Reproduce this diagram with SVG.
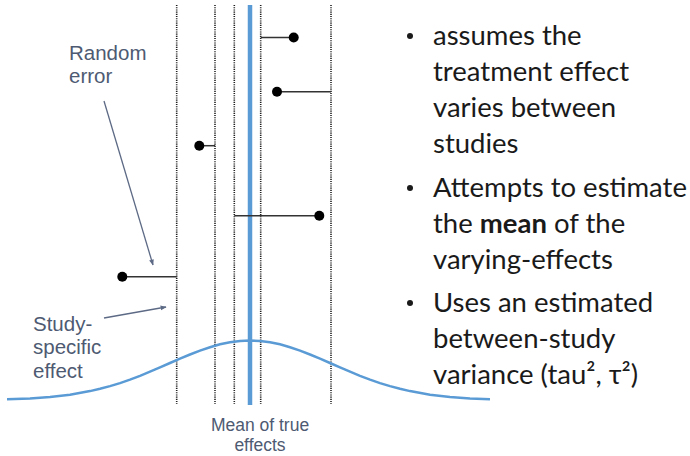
<svg xmlns="http://www.w3.org/2000/svg" width="690" height="456" viewBox="0 0 690 456">
<defs>
<style>
.dot-line{stroke:#1e1e1e;stroke-width:1.6;stroke-dasharray:1.1 1.1;fill:none}
.err{stroke:#333;stroke-width:1.5;fill:none}
.pt{fill:#000}
.lbl{font-family:"Liberation Sans",Arial,sans-serif;font-size:20.5px;fill:#4e5a72}
.mean{font-family:"Liberation Sans",Arial,sans-serif;font-size:17.5px;fill:#4e5a72;text-anchor:middle}
.ann{stroke:#5d6a85;stroke-width:1.3;fill:none;marker-end:url(#ah)}
.blue{stroke:#5b9bd5;fill:none}
.txt{font-family:Lato,"Open Sans",sans-serif;font-size:27.5px;fill:#1a1a1a}
.bul{fill:#1a1a1a}
</style>
<marker id="ah" viewBox="0 0 10 10" refX="9" refY="5" markerWidth="6" markerHeight="6" orient="auto" markerUnits="userSpaceOnUse">
<path d="M0,1 L10,5 L0,9 z" fill="#5d6a85"/>
</marker>
</defs>
<rect width="690" height="456" fill="#fff"/>

<g id="dotted-lines">
<line class="dot-line" x1="176.7" y1="5" x2="176.7" y2="404"/>
<line class="dot-line" x1="215" y1="5" x2="215" y2="404"/>
<line class="dot-line" x1="234.3" y1="5" x2="234.3" y2="404"/>
<line class="dot-line" x1="260.7" y1="5" x2="260.7" y2="404"/>
<line class="dot-line" x1="331" y1="5" x2="331" y2="404"/>
</g>

<g id="distribution">
<path class="blue" stroke-width="2.5" d="M7,399.3 L30,398.4 L50,397 L70,394.7 L90,391.1 L100,388.8 L110,386.1 L120,383.1 L130,379.6 L140,375.8 L150,371.7 L160,367.4 L170,363 L180,358.7 L190,354.5 L200,350.6 L210,347.2 L220,344.3 L230,342.2 L240,340.9 L250,340.5 L260,340.9 L270,342.2 L280,344.3 L290,347.2 L300,350.6 L310,354.5 L320,358.7 L330,363 L340,367.4 L350,371.7 L360,375.8 L370,379.6 L380,383.1 L390,386.1 L400,388.8 L410,391.1 L430,394.7 L450,397 L470,398.4 L490,399.3"/>
</g>

<g id="mean-line">
<line class="blue" stroke-width="4.5" x1="250" y1="5" x2="250" y2="405"/>
</g>

<g id="study-1">
<line class="err" x1="260.7" y1="37.5" x2="293.7" y2="37.5"/>
<circle class="pt" cx="293.7" cy="37.5" r="5"/>
</g>
<g id="study-2">
<line class="err" x1="277" y1="91.7" x2="331" y2="91.7"/>
<circle class="pt" cx="277" cy="91.7" r="5"/>
</g>
<g id="study-3">
<line class="err" x1="199.3" y1="145.7" x2="215" y2="145.7"/>
<circle class="pt" cx="199.3" cy="145.7" r="5"/>
</g>
<g id="study-4">
<line class="err" x1="234.3" y1="215.7" x2="319.3" y2="215.7"/>
<circle class="pt" cx="319.3" cy="215.7" r="5"/>
</g>
<g id="study-5">
<line class="err" x1="122.3" y1="276.7" x2="176.7" y2="276.7"/>
<circle class="pt" cx="122.3" cy="276.7" r="5"/>
</g>

<g id="random-error-label">
<text class="lbl" x="69" y="59.5">Random</text>
<text class="lbl" x="69" y="83.3">error</text>
</g>
<g id="study-specific-label">
<text class="lbl" x="33" y="330.5">Study-</text>
<text class="lbl" x="33" y="354">specific</text>
<text class="lbl" x="33" y="377.5">effect</text>
</g>
<g id="mean-label">
<text class="mean" x="260" y="431">Mean of true</text>
<text class="mean" x="260" y="450.5">effects</text>
</g>

<g id="connectors">
<line class="ann" x1="104" y1="101" x2="153" y2="265"/>
<line class="ann" x1="104" y1="318" x2="166" y2="307"/>
</g>

<g id="bullets">
<circle class="bul" cx="410" cy="36" r="3"/>
<text class="txt" x="433" y="45">assumes the</text>
<text class="txt" x="433" y="81">treatment effect</text>
<text class="txt" x="433" y="117">varies between</text>
<text class="txt" x="433" y="153">studies</text>
<circle class="bul" cx="410" cy="188" r="3"/>
<text class="txt" x="433" y="197">Attempts to estimate</text>
<text class="txt" x="433" y="233">the <tspan font-weight="bold">mean</tspan> of the</text>
<text class="txt" x="433" y="269">varying-effects</text>
<circle class="bul" cx="410" cy="303" r="3"/>
<text class="txt" x="433" y="312">Uses an estimated</text>
<text class="txt" x="433" y="348">between-study</text>
<text class="txt" x="433" y="384">variance (tau², τ²)</text>
</g>
</svg>
